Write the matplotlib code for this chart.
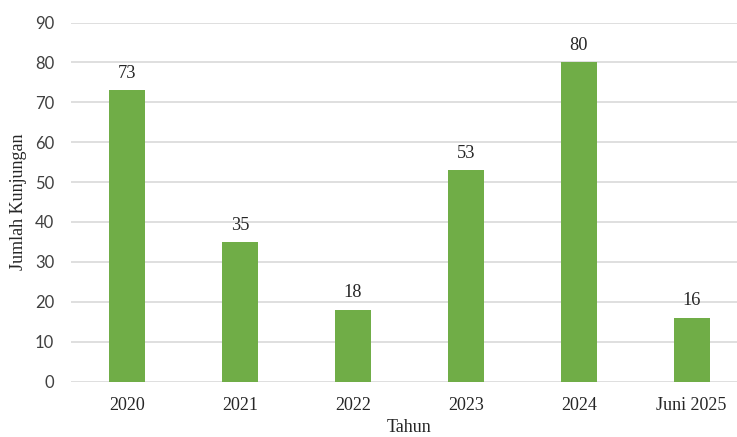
import matplotlib.pyplot as plt
import numpy as np

# data
tahun = ['2020', '2021', '2022', '2023', '2024', 'Juni 2025']
kunjungan = [73, 35, 18, 53, 80, 16]
yticks = [0, 10, 20, 30, 40, 50, 60, 70, 80, 90]

serif = 'Liberation Serif'
sans = 'Lato'
txt = '#262626'

fig = plt.figure(figsize=(7.37, 4.37), dpi=100)
# axes runs slightly past the right edge like the original
ax = fig.add_axes([71 / 737, 55.5 / 437, 677 / 737, 359 / 437])

x = np.arange(len(tahun))
bars = ax.bar(x, kunjungan, width=0.32, color='#70AD47', zorder=3)

for b, v in zip(bars, kunjungan):
    ax.annotate(str(v), (b.get_x() + b.get_width() / 2, v),
                xytext=(0, 6), textcoords='offset points',
                ha='center', va='bottom', fontsize=13.2,
                family=serif, color=txt)

ax.set_xlim(-0.5, len(tahun) - 0.5)
ax.set_ylim(0, 90)
ax.set_yticks(yticks)
ax.set_xticks(x)
ax.set_xticklabels(tahun, family=serif, fontsize=13, color=txt)
ax.set_yticklabels([str(t) for t in yticks], family=sans, fontsize=12, color='#404040')
ax.tick_params(length=0)
ax.tick_params(axis='x', pad=11)
ax.tick_params(axis='y', pad=12)

ax.grid(axis='y', color='#d9d9d9', linewidth=1.2, zorder=0)
for s in ax.spines.values():
    s.set_visible(False)

ax.set_xlabel('Tahun', family=serif, fontsize=13, color=txt, labelpad=4)
ax.set_ylabel('Jumlah Kunjungan', family=serif, fontsize=13, color=txt, labelpad=6)

fig.savefig('out.png', dpi=100)
